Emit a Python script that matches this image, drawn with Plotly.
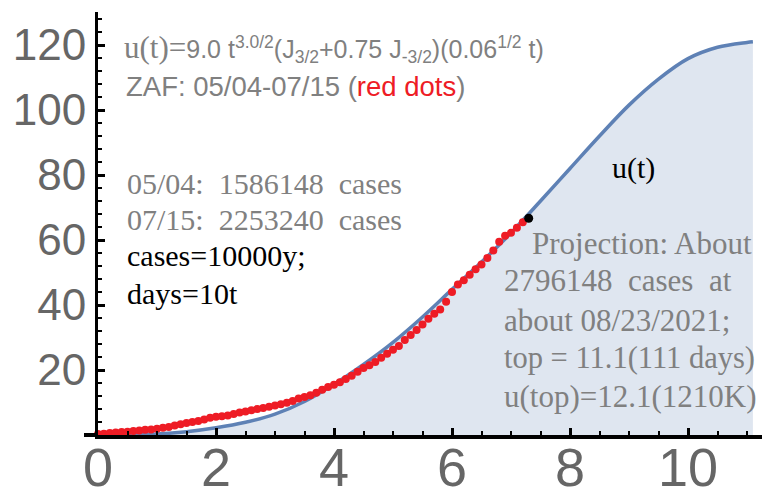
import plotly.graph_objects as go

# ---- data ----
curve_t = [0, 0.5, 1, 1.5, 2, 2.5, 3, 3.5, 4, 4.5, 5, 5.5, 6, 6.5, 7, 7.5,
           8, 8.5, 9, 9.5, 10, 10.5, 11, 11.1]
curve_u = [0, 0.05, 0.3, 1.0, 2.2, 3.9, 6.4, 10.3, 15.6, 21.7, 28.5, 36.3,
           44.8, 53.2, 62.2, 72.0, 82.0, 92.0, 101.5, 109.5, 115.8, 119.3,
           120.8, 121.0]

obs_day = list(range(73))  # days since 05/04 (t = days/10)
obs_y = [0.3, 0.4, 0.6, 0.8, 0.9, 1.0, 1.2, 1.4, 1.6, 1.7,
         1.9, 2.2, 2.5, 2.9, 3.3, 3.7, 4.0, 4.3, 4.8, 5.3,
         5.6, 5.8, 6.0, 6.5, 6.9, 7.2, 7.6, 8.0, 8.3, 8.7,
         9.1, 9.5, 9.9, 10.5, 11.2, 11.7, 12.2, 13.0, 13.9, 14.8,
         15.5, 16.2, 17.2, 18.2, 19.5, 20.6, 21.5, 22.5, 23.8, 25.0,
         26.2, 27.4, 29.2, 30.8, 32.3, 34.0, 35.8, 37.3, 38.6, 41.0,
         44.0, 46.3, 47.6, 49.3, 51.0, 52.5, 54.5, 56.8, 59.5, 61.3,
         62.2, 63.8, 65.5]
last_t = [7.3]
last_y = [66.7]

x_ticks = [0, 2, 4, 6, 8, 10]
y_ticks = [20, 40, 60, 80, 100, 120]

obs_t = [d / 10 for d in obs_day]

W, H = 762, 493
L, R, T, B = 98, 0, 12, 58
pw, ph = W - L - R, H - T - B

def px(x):
    return (x - L) / pw

def py(y):
    return (H - B - y) / ph

SANS = "Liberation Sans"
SERIF = "Liberation Serif"
GRAY = "rgb(128,128,128)"

fig = go.Figure()
fig.add_trace(go.Scatter(
    x=curve_t, y=curve_u, mode="lines", line_shape="spline",
    line=dict(color="rgb(94,129,181)", width=3.5),
    fill="tozeroy", fillcolor="rgba(94,129,181,0.2)", cliponaxis=False,
    hoverinfo="skip"))
fig.add_trace(go.Scatter(
    x=obs_t, y=obs_y, mode="markers",
    marker=dict(color="#ee1c25", size=8, line=dict(width=0)),
    cliponaxis=False))
fig.add_trace(go.Scatter(
    x=last_t, y=last_y, mode="markers",
    marker=dict(color="black", size=9, line=dict(width=0)),
    cliponaxis=False))

anns = []
def ann(text, x, y, size, color, family, anchor="left"):
    anns.append(dict(text=text, x=px(x), y=py(y), xref="paper", yref="paper",
                     xanchor=anchor, yanchor="middle", showarrow=False,
                     font=dict(size=size, color=color, family=family)))

NB = "\u00a0"
ann('<span style="font-family:Liberation Serif;font-size:31px">u(t)=</span>'
    '9.0 t<sup>3.0/2</sup>(J<sub>3/2</sub>+0.75 J<sub>-3/2</sub>)(0.06<sup>1/2</sup> t)',
    122, 48, 25, GRAY, SANS)
ann('ZAF: 05/04-07/15 (<span style="color:#ee1c25">red dots</span>)',
    124, 86, 27.5, GRAY, SANS)
ann(f"05/04:{NB}{NB}1586148{NB}{NB}cases", 125, 183, 30, GRAY, SERIF)
ann(f"07/15:{NB}{NB}2253240{NB}{NB}cases", 125, 219, 30, GRAY, SERIF)
ann("cases=10000y;", 125, 256, 30, "black", SERIF)
ann("days=10t", 125, 293, 30, "black", SERIF)
ann("u(t)", 610, 168, 30, "black", SERIF)
ann("Projection: About", 530, 243, 31, GRAY, SERIF)
ann(f"2796148{NB}{NB}cases{NB}{NB}at", 502, 281, 31, GRAY, SERIF)
ann("about 08/23/2021;", 502, 320, 31, GRAY, SERIF)
ann("top = 11.1(111 days)", 502, 358, 30.5, GRAY, SERIF)
ann("u(top)=12.1(1210K)", 502, 396, 31, GRAY, SERIF)

fig.update_layout(
    width=W, height=H, margin=dict(l=L, r=R, t=T, b=B, pad=0, autoexpand=False),
    paper_bgcolor="white", plot_bgcolor="white", showlegend=False,
    annotations=anns,
    shapes=[dict(type="line", xref="paper", yref="paper",
                 x0=px(84), x1=0, y0=0, y1=0,
                 line=dict(color="black", width=4))],
    xaxis=dict(range=[0, (W - L) / 59.0], showgrid=False, zeroline=False,
               automargin=False,
               showline=True, linecolor="black", linewidth=4,
               ticks="inside", ticklen=7, tickwidth=3, tickcolor="black",
               tickvals=x_ticks, ticktext=[str(v) for v in x_ticks],
               ticklabelstandoff=-18,
               tickfont=dict(size=54, color="rgb(102,102,102)", family=SANS),
               minor=dict(ticks="inside", dtick=0.5, ticklen=4, tickwidth=2,
                          tickcolor="black", showgrid=False)),
    yaxis=dict(range=[0, (H - B - T) / 3.25], showgrid=False, zeroline=False,
               automargin=False,
               showline=True, linecolor="black", linewidth=3,
               ticks="inside", ticklen=7, tickwidth=3, tickcolor="black",
               tickvals=y_ticks, ticktext=[str(v) for v in y_ticks],
               ticklabelstandoff=0,
               tickfont=dict(size=44, color="rgb(102,102,102)", family=SANS),
               minor=dict(ticks="inside", dtick=4, ticklen=4, tickwidth=2,
                          tickcolor="black", showgrid=False)),
)

fig.write_html(
    "out.html",
    config={"displayModeBar": False},
    post_script="document.body.style.margin='0px';"
                "document.body.style.overflow='hidden';")
